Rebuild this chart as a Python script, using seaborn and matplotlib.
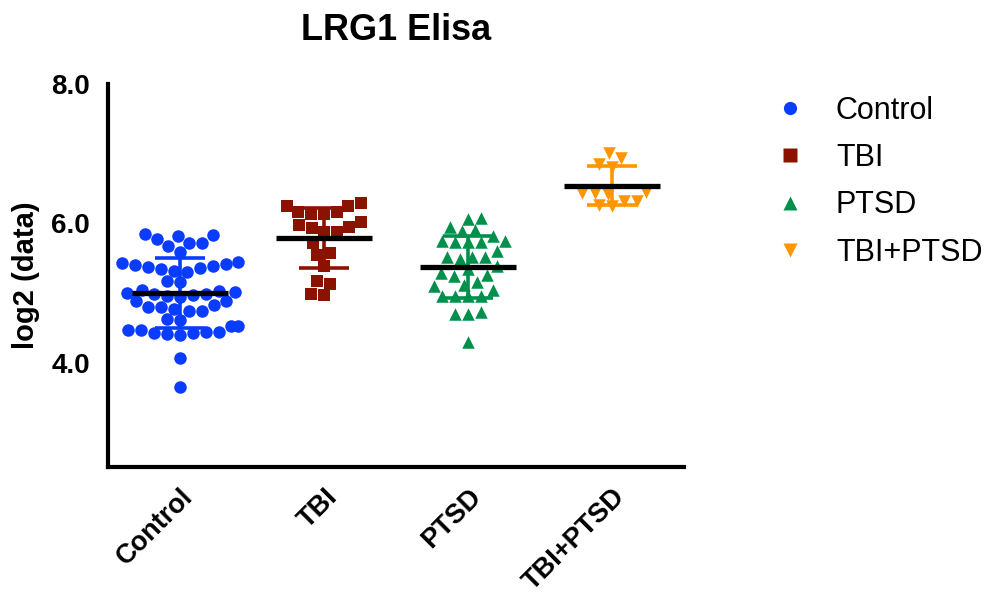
import numpy as np
import pandas as pd
import matplotlib
matplotlib.use("Agg")
import matplotlib.pyplot as plt
from matplotlib.lines import Line2D
import seaborn as sns

# ---- data ----
categories = ["Control", "TBI", "PTSD", "TBI+PTSD"]
control = [5.83, 5.84, 5.82, 5.77, 5.72, 5.72, 5.67,
           5.59,
           5.45, 5.42, 5.40, 5.37, 5.34, 5.32, 5.30, 5.36, 5.39, 5.43,
           5.15, 5.17,
           5.04, 5.01, 4.97, 4.94, 4.96, 4.99, 5.03, 4.98, 5.00,
           4.88, 4.80, 4.77, 4.74, 4.74, 4.80, 4.82, 4.88,
           4.61, 4.62,
           4.52, 4.47, 4.44, 4.42, 4.40, 4.41, 4.43, 4.44, 4.47, 4.53,
           4.06, 3.65]
tbi = [6.25, 6.16, 6.14, 6.29, 6.14, 6.16, 6.25,
       5.95, 5.87, 6.02, 5.87, 5.93, 5.97,
       5.71, 5.58, 5.54, 5.39, 5.13, 5.17, 4.97, 4.99]
ptsd = [6.06, 6.07, 5.91, 5.94, 5.74, 5.73, 5.82, 5.89, 5.73, 5.73, 5.74,
        5.60, 5.48, 5.52, 5.51, 5.52, 5.34, 5.38, 5.26, 5.24, 5.28,
        5.10, 5.15, 5.12, 5.04, 4.96, 4.95, 4.95, 4.96, 4.70, 4.69, 4.73, 4.30]
tbi_ptsd = [6.94, 7.01, 6.81, 6.85, 6.42, 6.45, 6.44, 6.43,
            6.32, 6.25, 6.26, 6.32]
yticks = [4.0, 6.0, 8.0]
ytick_labels = ["4.0", "6.0", "8.0"]

colors = ["#0a3cff", "#8c1200", "#00904c", "#ff9500"]
markers = ["o", "s", "^", "v"]

groups = [control, tbi, ptsd, tbi_ptsd]
df = pd.DataFrame({
    "group": np.concatenate([[c] * len(v) for c, v in zip(categories, groups)]),
    "value": np.concatenate(groups),
})

sns.set_theme(style="white")
plt.rcParams["font.family"] = ["Liberation Sans", "DejaVu Sans"]
for k in ["text.color", "axes.labelcolor", "xtick.color", "ytick.color"]:
    plt.rcParams[k] = "black"

fig = plt.figure(figsize=(9.84, 5.97), dpi=100)
ax = fig.add_axes([0.1098, 0.2178, 0.5854, 0.6415])

for i, (cat, col, mk) in enumerate(zip(categories, colors, markers)):
    sub = df[df["group"] == cat].copy()
    sub["group"] = pd.Categorical(sub["group"], categories=categories)
    sns.swarmplot(data=sub, x="group", y="value", order=categories,
                  color=col, marker=mk, size=9.0, linewidth=0,
                  ax=ax, zorder=2)

# mean and SD
for i, (vals, col) in enumerate(zip(groups, colors)):
    m = np.mean(vals)
    sd = np.std(vals, ddof=1)
    ax.plot([i, i], [m - sd, m + sd], color=col, lw=2.6, zorder=3,
            solid_capstyle="butt")
    ax.plot([i - 0.175, i + 0.175], [m + sd, m + sd], color=col, lw=2.6,
            zorder=3, solid_capstyle="butt")
    ax.plot([i - 0.175, i + 0.175], [m - sd, m - sd], color=col, lw=2.6,
            zorder=3, solid_capstyle="butt")
    ax.plot([i - 0.335, i + 0.335], [m, m], color="black", lw=3.8,
            zorder=4, solid_capstyle="butt")

ax.set_xlim(-0.5, 3.5)
ax.set_ylim(2.5, 8.0)
ax.set_yticks(yticks)
ax.set_yticklabels(ytick_labels, fontsize=20, fontweight="bold")
ax.set_xticks(range(len(categories)))
ax.set_xticklabels(categories, fontsize=19.5, fontweight="bold",
                   rotation=45, ha="right", va="top",
                   rotation_mode="anchor")
ax.set_xlabel("")
ax.set_ylabel("log2 (data)", fontsize=21, fontweight="bold", labelpad=8)
ax.set_title("LRG1 Elisa", fontsize=26, fontweight="bold", pad=32)

for s in ["top", "right"]:
    ax.spines[s].set_visible(False)
for s in ["left", "bottom"]:
    ax.spines[s].set_linewidth(3)
    ax.spines[s].set_color("black")
ax.tick_params(axis="both", which="major", length=10, width=3,
               color="black", direction="out", pad=3)
ax.tick_params(axis="x", pad=2)

handles = [Line2D([0], [0], marker=mk, color="none", markerfacecolor=col,
                  markeredgecolor="none", markersize=9.5, label=cat)
           for cat, col, mk in zip(categories, colors, markers)]
fig.legend(handles=handles, loc="upper left",
           bbox_to_anchor=(0.7595, 0.886), frameon=False, fontsize=22,
           handletextpad=1.0, labelspacing=0.57, handlelength=1.0)

fig.savefig("out.png", dpi=100)
